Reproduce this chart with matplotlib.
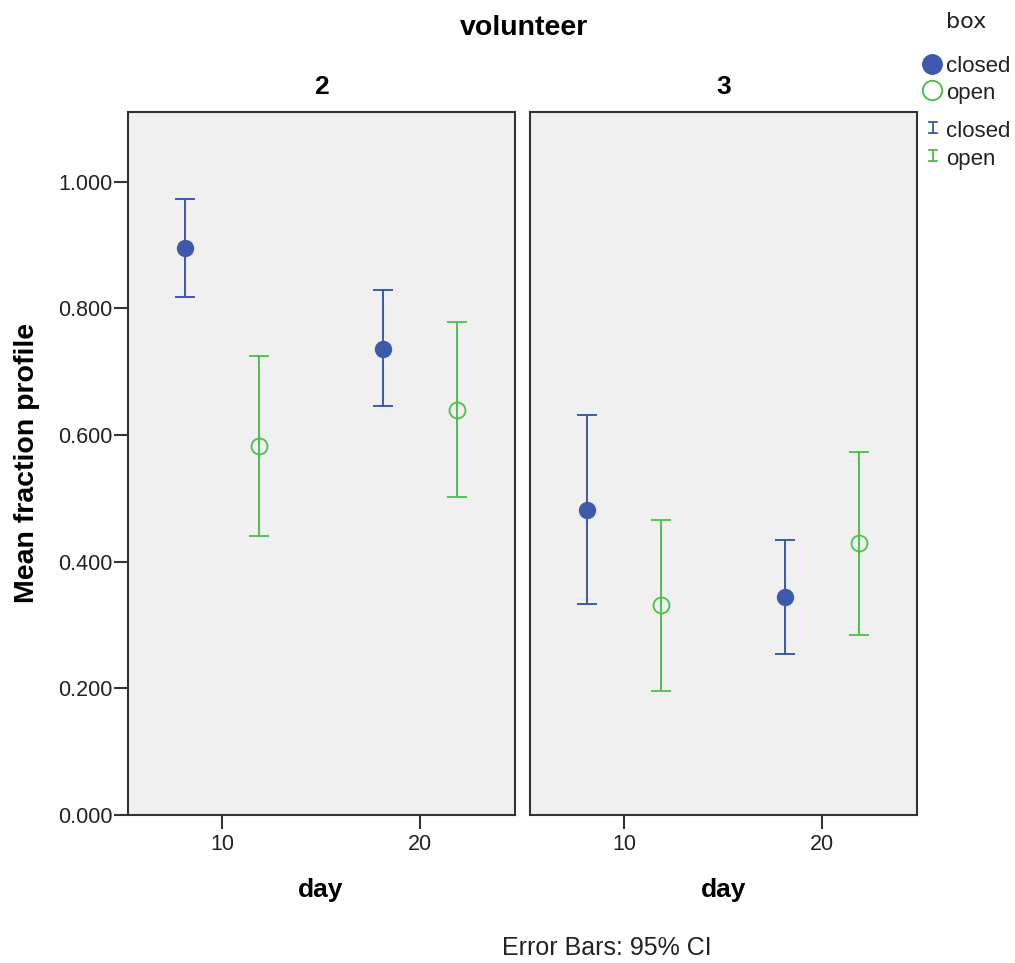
import numpy as np
import matplotlib
matplotlib.use("Agg")
import matplotlib.pyplot as plt
from matplotlib.lines import Line2D

plt.rcParams['font.family'] = ['Liberation Sans', 'DejaVu Sans']

volunteers = ['2', '3']
days = [10, 20]
# mean, lower CI, upper CI per volunteer, per day
closed_mean = [[0.896, 0.736], [0.482, 0.344]]
closed_lo = [[0.818, 0.645], [0.333, 0.254]]
closed_hi = [[0.973, 0.829], [0.632, 0.434]]
open_mean = [[0.583, 0.640], [0.332, 0.430]]
open_lo = [[0.441, 0.502], [0.196, 0.284]]
open_hi = [[0.725, 0.779], [0.466, 0.573]]

blue = '#3e58ac'
green = '#4cbf4c'
dodge = 1.85

fig = plt.figure(figsize=(10.15, 9.63), dpi=100)
lefts = [128 / 1015, 530 / 1015]
centers = [321, 724]
for i, v in enumerate(volunteers):
    ax = fig.add_axes([lefts[i], 1 - 815 / 963, 387 / 1015, 703 / 963])
    ax.set_facecolor('#f0f0f0')
    d = np.array(days, dtype=float)
    cm = np.array(closed_mean[i]); om = np.array(open_mean[i])
    ax.errorbar(d - dodge, cm,
                yerr=[cm - np.array(closed_lo[i]), np.array(closed_hi[i]) - cm],
                fmt='o', color=blue, ms=11.5, capsize=7, capthick=1.4, elinewidth=1.4)
    ax.errorbar(d + dodge, om,
                yerr=[om - np.array(open_lo[i]), np.array(open_hi[i]) - om],
                fmt='o', color=green, mfc='none', mec=green, ms=11.5, mew=1.3,
                capsize=7, capthick=1.4, elinewidth=1.4)
    ax.set_xlim(5.25, 24.8)
    ax.set_ylim(0, 1.11)
    ax.set_xticks(days)
    ax.set_yticks([0, 0.2, 0.4, 0.6, 0.8, 1.0])
    ax.tick_params(direction='out', length=10, width=1.5, color='#333333',
                   labelsize=15.5, labelcolor='#222222', pad=1)
    ax.tick_params(axis='x', pad=4)
    for s in ax.spines.values():
        s.set_color('#333333')
        s.set_linewidth(1.5)
    if i == 0:
        ax.set_yticklabels(['%.3f' % t for t in ax.get_yticks()])
    else:
        ax.tick_params(axis='y', left=False, labelleft=False)
    fig.text(centers[i] / 1015, 1 - 87 / 963, v, ha='center', va='center',
             fontsize=19, fontweight='bold')
    fig.text(centers[i] / 1015, 1 - 890 / 963, 'day', ha='center', va='center',
             fontsize=19, fontweight='bold')

fig.text(27 / 1015, 1 - 463 / 963, 'Mean fraction profile', ha='center', va='center',
         rotation=90, fontsize=20.5, fontweight='bold')
fig.text(524 / 1015, 1 - 28 / 963, 'volunteer', ha='center', va='center',
         fontsize=20.5, fontweight='bold')
fig.text(607 / 1015, 1 - 948 / 963, 'Error Bars: 95% CI', ha='center', va='center',
         fontsize=18, color='#222222')

# legend
fig.text(966 / 1015, 1 - 22 / 963, 'box', ha='center', va='center', fontsize=16,
         color='#222222', family='DejaVu Sans')
fig.add_artist(Line2D([932 / 1015], [1 - 64 / 963], transform=fig.transFigure,
                      marker='o', color=blue, ms=14, ls='none'))
fig.add_artist(Line2D([932 / 1015], [1 - 90 / 963], transform=fig.transFigure,
                      marker='o', mfc='none', mec=green, mew=1.4, ms=14, ls='none'))
for y, c in [(128, blue), (156, green)]:
    x0, x1 = 929 / 1015, 937 / 1015
    xm = 933 / 1015
    yt, yb = 1 - (y - 6) / 963, 1 - (y + 5) / 963
    for xs, ys in [([xm, xm], [yt, yb]), ([x0, x1], [yt, yt]), ([x0, x1], [yb, yb])]:
        fig.add_artist(Line2D(xs, ys, transform=fig.transFigure, color=c, lw=1.3))
for y, lab in [(67, 'closed'), (93, 'open'), (131, 'closed'), (159, 'open')]:
    fig.text(946 / 1015, 1 - y / 963, lab, ha='left', va='center', fontsize=16,
             color='#222222')

fig.savefig('out.png', dpi=100)
